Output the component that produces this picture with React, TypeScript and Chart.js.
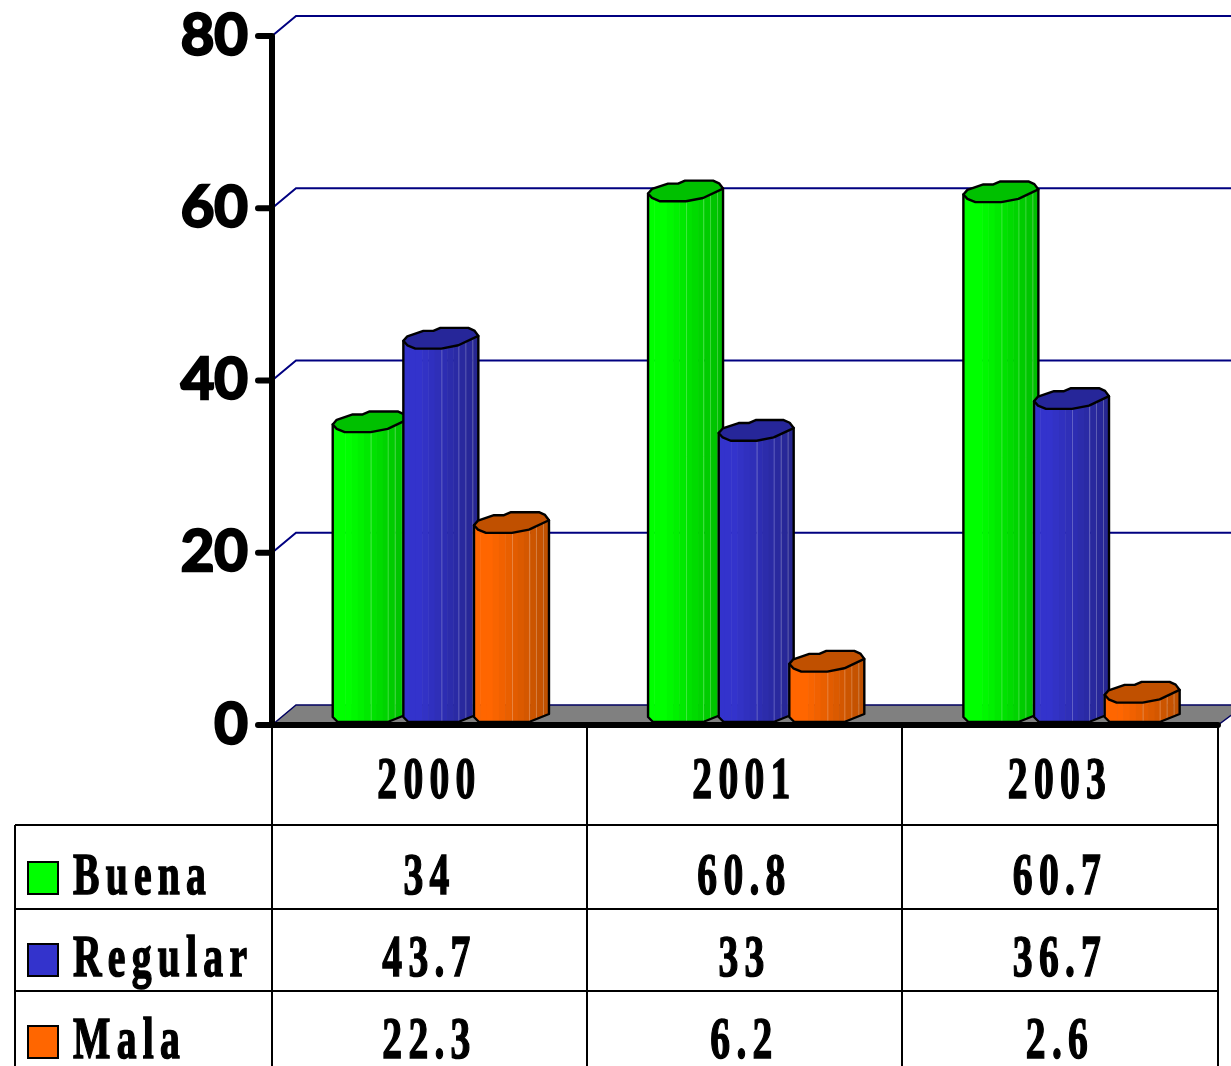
import React, { useEffect, useRef } from "react";
import { Chart, registerables } from "chart.js";

Chart.register(...registerables);

const years = ["2000", "2001", "2003"];
const seriesNames = ["Buena", "Regular", "Mala"];
const buena = [34, 60.8, 60.7];
const regular = [43.7, 33, 36.7];
const mala = [22.3, 6.2, 2.6];
const yMax = 80;
const yStep = 20;

const bright = ["#00ff00", "#3333cc", "#ff6600"];
const capColor = ["#00c000", "#262699", "#c05000"];
const darkRgb = [[0, 190, 0], [38, 38, 145], [190, 80, 0]];
const brightRgb = [[0, 255, 0], [51, 51, 204], [255, 102, 0]];

const capPts: [number, number][] = [
  [0, -7.7], [4, -12.3], [20, -17.7], [30, -17.7], [37, -20.7], [65, -20.7], [71, -18], [75, -12.7],
  [55, -3.3], [38, 0], [12, 0], [4, -3.3],
];

const AXIS_X = 272;
const FLOOR_DX = 24;
const FLOOR_DY = 20;
const TABLE_RIGHT = 1218;
const colX = [272, 587, 902, 1218];
const rowY = [825, 909, 991];
const baselines = [894, 976, 1058];

function tracedText(ctx: CanvasRenderingContext2D, text: string, x: number, y: number, center: boolean) {
  ctx.save();
  ctx.font = "bold 60px 'Liberation Serif'";
  (ctx as any).letterSpacing = "9.5px";
  ctx.fillStyle = "#000";
  ctx.strokeStyle = "#000";
  ctx.lineWidth = 1.6;
  ctx.textBaseline = "alphabetic";
  ctx.textAlign = "left";
  const sx = 0.66;
  const w = ctx.measureText(text).width * sx;
  ctx.translate(center ? x - w / 2 : x, y);
  ctx.scale(sx, 1);
  ctx.fillText(text, 0, 0);
  ctx.strokeText(text, 0, 0);
  ctx.restore();
}

function drawCylinder(ctx: CanvasRenderingContext2D, L: number, Y: number, series: number) {
  const bottom = 722;
  ctx.save();
  const body = new Path2D();
  body.moveTo(L, Y - 7.7);
  body.lineTo(L, bottom - 5);
  body.lineTo(L + 5, bottom);
  body.lineTo(L + 55, bottom);
  body.lineTo(L + 75, bottom - 8);
  body.lineTo(L + 75, Y - 12.7);
  body.closePath();
  ctx.save();
  ctx.clip(body);
  const b = brightRgb[series];
  const d = darkRgb[series];
  const step = 6.25;
  for (let i = 0; i < 12; i++) {
    const t = i < 3 ? 0 : (i - 2) / 9;
    const c = b.map((v, k) => Math.round(v + (d[k] - v) * t));
    ctx.fillStyle = `rgb(${c[0]},${c[1]},${c[2]})`;
    ctx.fillRect(L + i * step, Y - 30, step + 0.5, bottom - Y + 30);
  }
  ctx.strokeStyle = "rgba(255,255,255,0.25)";
  ctx.lineWidth = 1;
  for (const off of [38, 55, 62, 69]) {
    ctx.beginPath();
    ctx.moveTo(L + off + 0.5, Y - 10);
    ctx.lineTo(L + off + 0.5, bottom);
    ctx.stroke();
  }
  ctx.restore();
  ctx.strokeStyle = "#000";
  ctx.lineWidth = 2.4;
  ctx.lineJoin = "round";
  ctx.stroke(body);
  ctx.beginPath();
  capPts.forEach(([dx, dy], i) => {
    if (i === 0) ctx.moveTo(L + dx, Y + dy);
    else ctx.lineTo(L + dx, Y + dy);
  });
  ctx.closePath();
  ctx.fillStyle = capColor[series];
  ctx.fill();
  ctx.stroke();
  ctx.restore();
}

const scene3d = {
  id: "scene3d",
  beforeDatasetsDraw(chart: any) {
    const { ctx, scales } = chart;
    const y = scales.y;
    const base = y.getPixelForValue(0);
    ctx.save();
    ctx.beginPath();
    ctx.moveTo(AXIS_X, base);
    ctx.lineTo(AXIS_X + FLOOR_DX, base - FLOOR_DY);
    ctx.lineTo(1245, base - FLOOR_DY);
    ctx.lineTo(TABLE_RIGHT, base);
    ctx.closePath();
    ctx.fillStyle = "#808080";
    ctx.fill();
    ctx.strokeStyle = "#000060";
    ctx.lineWidth = 1.5;
    ctx.stroke();
    ctx.strokeStyle = "#000080";
    ctx.lineWidth = 2;
    for (const t of y.ticks) {
      if (t.value === 0) continue;
      const py = y.getPixelForValue(t.value);
      ctx.beginPath();
      ctx.moveTo(AXIS_X, py);
      ctx.lineTo(AXIS_X + FLOOR_DX, py - FLOOR_DY);
      ctx.lineTo(1231, py - FLOOR_DY);
      ctx.stroke();
    }
    ctx.restore();
  },
  beforeDatasetDraw() {
    return false;
  },
  afterDatasetsDraw(chart: any) {
    const { ctx, scales } = chart;
    const y = scales.y;
    const base = y.getPixelForValue(0);
    const top = y.getPixelForValue(yMax);
    chart.data.labels.forEach((_: string, c: number) => {
      chart.data.datasets.forEach((_d: any, s: number) => {
        const bar = chart.getDatasetMeta(s).data[c];
        drawCylinder(ctx, bar.x - bar.width / 2, bar.y, s);
      });
    });
    ctx.save();
    ctx.strokeStyle = "#000";
    ctx.lineWidth = 2;
    ctx.beginPath();
    for (const cx of colX) {
      ctx.moveTo(cx, base);
      ctx.lineTo(cx, 1066);
    }
    ctx.moveTo(15, rowY[0]);
    ctx.lineTo(15, 1066);
    for (const ry of rowY) {
      ctx.moveTo(15, ry);
      ctx.lineTo(TABLE_RIGHT, ry);
    }
    ctx.stroke();
    ctx.lineWidth = 6;
    ctx.lineCap = "round";
    ctx.beginPath();
    ctx.moveTo(AXIS_X, top);
    ctx.lineTo(AXIS_X, base);
    ctx.moveTo(AXIS_X, base);
    ctx.lineTo(TABLE_RIGHT, base);
    for (const t of y.ticks) {
      const py = y.getPixelForValue(t.value);
      ctx.moveTo(258, py);
      ctx.lineTo(AXIS_X, py);
    }
    ctx.stroke();
    ctx.restore();
    const labels = chart.data.labels as string[];
    const centers = labels.map((_, i) => (colX[i] + colX[i + 1]) / 2);
    labels.forEach((lab, i) => tracedText(ctx, lab, centers[i], 798, true));
    chart.data.datasets.forEach((ds: any, s: number) => {
      const by = baselines[s];
      ctx.fillStyle = bright[s];
      ctx.fillRect(28, by - 32, 30, 32);
      ctx.strokeStyle = "#000";
      ctx.lineWidth = 2;
      ctx.strokeRect(28, by - 32, 30, 32);
      tracedText(ctx, ds.label, 73, by, false);
      ds.data.forEach((v: number, i: number) => tracedText(ctx, String(v), centers[i], by, true));
    });
  },
};

export default function App() {
  const ref = useRef<HTMLCanvasElement>(null);
  useEffect(() => {
    const chart = new Chart(ref.current!, {
      type: "bar",
      data: {
        labels: years,
        datasets: [
          { label: seriesNames[0], data: buena, backgroundColor: bright[0] },
          { label: seriesNames[1], data: regular, backgroundColor: bright[1] },
          { label: seriesNames[2], data: mala, backgroundColor: bright[2] },
        ],
      },
      options: {
        animation: false,
        responsive: false,
        devicePixelRatio: 1,
        layout: { autoPadding: false, padding: { top: 0, bottom: 341, right: 4, left: 0 } },
        plugins: { legend: { display: false }, tooltip: { enabled: false }, title: { display: false } },
        datasets: { bar: { categoryPercentage: 0.672, barPercentage: 1 } },
        scales: {
          x: { display: false },
          y: {
            min: 0,
            max: yMax,
            afterFit: (s: any) => { s.width = 281; },
            grid: { display: false, drawTicks: false },
            border: { display: false },
            ticks: {
              stepSize: yStep,
              padding: 33,
              color: "#000",
              textStrokeColor: "#000",
              textStrokeWidth: 2.5,
              font: { family: "Lato", weight: "bold", size: 58, lineHeight: 0.1 },
            },
          },
        },
      } as any,
      plugins: [scene3d],
    });
    return () => chart.destroy();
  }, []);
  return (
    <canvas
      ref={ref}
      width={1231}
      height={1066}
      style={{ position: "fixed", left: 0, top: 0, display: "block", width: 1231, height: 1066 }}
    />
  );
}
